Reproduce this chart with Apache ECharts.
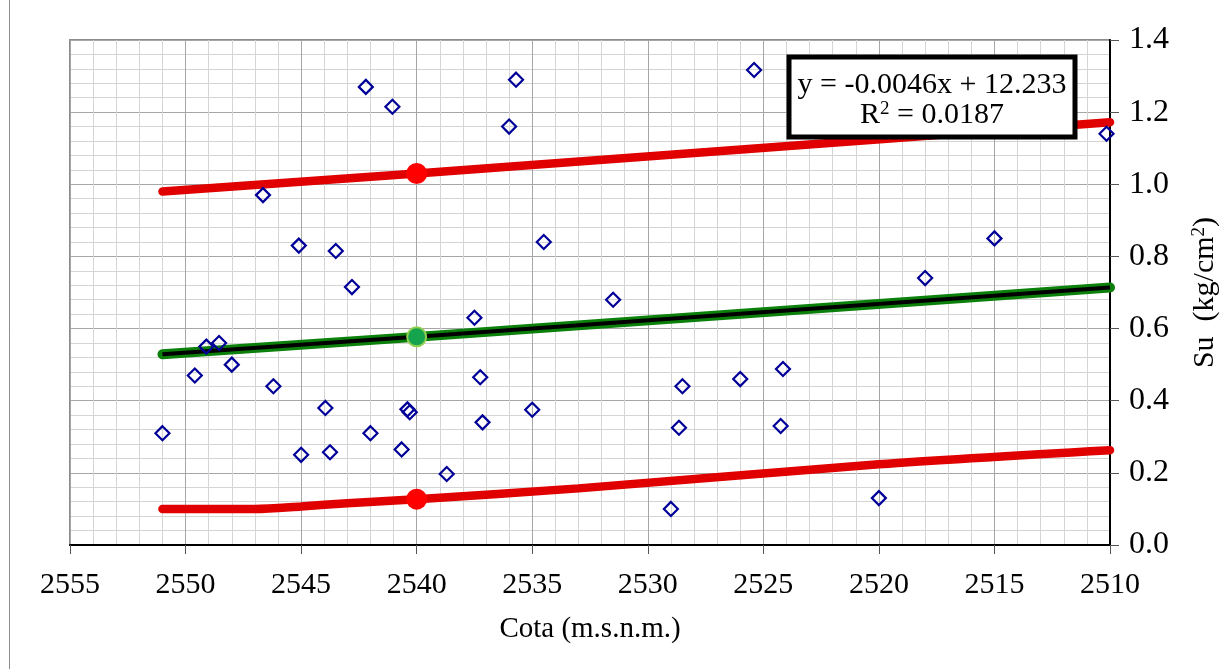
<!DOCTYPE html>
<html>
<head>
<meta charset="utf-8">
<script src="https://cdn.jsdelivr.net/npm/echarts@6/dist/echarts.min.js"></script>
<style>
  html, body { margin: 0; padding: 0; background: #fff; }
  #chart { width: 1232px; height: 669px; }
</style>
</head>
<body>
<div id="chart"></div>
<script>
// measured points: cota (m.s.n.m.) vs Su
const cota = [2551.0, 2549.6, 2549.1, 2548.55, 2548.0, 2546.65, 2546.2, 2545.0, 2545.1, 2543.95,
  2543.75, 2543.5, 2542.8, 2542.2, 2542.0, 2541.05, 2540.65, 2540.4, 2540.3, 2538.7,
  2537.5, 2537.25, 2537.15, 2536.0, 2535.7, 2535.0, 2534.5, 2531.5, 2529.0, 2528.65,
  2528.5, 2526.0, 2525.4, 2524.25, 2524.15, 2520.0, 2518.0, 2515.0, 2510.15]
const su = [0.31, 0.47, 0.55, 0.56, 0.50, 0.97, 0.44, 0.25, 0.83, 0.38,
  0.257, 0.815, 0.715, 1.27, 0.31, 1.215, 0.265, 0.376, 0.368, 0.197,
  0.63, 0.465, 0.34, 1.16, 1.29, 0.375, 0.84, 0.68, 0.10, 0.325,
  0.44, 0.46, 1.317, 0.33, 0.488, 0.13, 0.74, 0.85, 1.14]

// trend (green + black) line
const trendX = [2551, 2540, 2510]
const trendY = [0.529, 0.577, 0.714]

// upper / lower red envelopes
const upperX = [2551, 2540, 2510]
const upperY = [0.98, 1.03, 1.172]
const lowerX = [2551, 2547, 2545, 2543, 2540, 2533, 2520, 2510]
const lowerY = [0.10, 0.10, 0.107, 0.116, 0.127, 0.157, 0.224, 0.263]

// highlighted points at 2540
const redDotX = [2540, 2540]
const redDotY = [1.03, 0.127]
const greenDotX = [2540]
const greenDotY = [0.577]

const xTicks = { min: 2510, max: 2555, step: 5 }
const yTicks = { min: 0, max: 1.4, step: 0.2 }

const pairs = (xs, ys) => xs.map((x, i) => [x, ys[i]])

const FONT = 'Liberation Serif'
const myChart = echarts.init(document.getElementById('chart'))

const option = {
  backgroundColor: '#fff',
  animation: false,
  grid: {
    left: 70,
    right: 122,
    top: 40,
    bottom: 124,
    show: true,
    borderColor: '#8c8c8c',
    borderWidth: 2
  },
  xAxis: {
    type: 'value',
    inverse: true,
    min: xTicks.min,
    max: xTicks.max,
    interval: xTicks.step,
    name: 'Cota (m.s.n.m.)',
    nameLocation: 'middle',
    nameGap: 70,
    nameTextStyle: { fontFamily: FONT, fontSize: 29, color: '#000' },
    axisLine: { onZero: false, lineStyle: { color: '#000', width: 2 } },
    axisTick: { show: true, length: 9, lineStyle: { color: '#555', width: 1 } },
    axisLabel: { fontFamily: FONT, fontSize: 30, color: '#000', margin: 25, formatter: v => String(v) },
    splitLine: { show: true, lineStyle: { color: '#a6a6a6', width: 1 } },
    minorTick: { show: false, splitNumber: 5 },
    minorSplitLine: { show: true, lineStyle: { color: '#d4d4d4', width: 1 } }
  },
  yAxis: {
    type: 'value',
    position: 'right',
    min: yTicks.min,
    max: yTicks.max,
    interval: yTicks.step,
    name: 'Su  (kg/cm{sup|2})',
    nameLocation: 'middle',
    nameGap: 80,
    nameRotate: 90,
    nameTextStyle: {
      fontFamily: FONT, fontSize: 30, color: '#000',
      rich: { sup: { fontFamily: FONT, fontSize: 19, color: '#000', verticalAlign: 'top', padding: [0, 0, 10, 0] } }
    },
    axisLine: { show: true, onZero: false, lineStyle: { color: '#000', width: 2 } },
    axisTick: { show: true, length: 9, lineStyle: { color: '#555', width: 1 } },
    axisLabel: {
      fontFamily: FONT, fontSize: 32, color: '#000', margin: 19,
      formatter: v => v.toFixed(1)
    },
    splitLine: { show: true, lineStyle: { color: '#a6a6a6', width: 1 } },
    minorTick: { show: false, splitNumber: 5 },
    minorSplitLine: { show: true, lineStyle: { color: '#d4d4d4', width: 1 } }
  },
  series: [
    {
      type: 'line',
      data: pairs(upperX, upperY),
      showSymbol: false,
      lineStyle: { color: '#e00000', width: 8.5, cap: 'round' },
      z: 2
    },
    {
      type: 'line',
      data: pairs(lowerX, lowerY),
      smooth: 0.3,
      showSymbol: false,
      lineStyle: { color: '#e00000', width: 8.5, cap: 'round' },
      z: 2
    },
    {
      type: 'line',
      data: pairs(trendX, trendY),
      showSymbol: false,
      lineStyle: { color: '#0b800b', width: 10, cap: 'round' },
      z: 2
    },
    {
      type: 'line',
      data: pairs(trendX, trendY),
      showSymbol: false,
      lineStyle: { color: '#000', width: 4 },
      z: 3
    },
    {
      type: 'scatter',
      data: pairs(redDotX, redDotY),
      symbol: 'circle',
      symbolSize: 21,
      itemStyle: { color: '#ff0000', opacity: 1 },
      z: 4
    },
    {
      type: 'scatter',
      data: pairs(greenDotX, greenDotY),
      symbol: 'circle',
      symbolSize: 19,
      itemStyle: { color: '#16a34e', borderColor: '#92d050', borderWidth: 2, opacity: 1 },
      z: 4
    },
    {
      type: 'scatter',
      data: pairs(cota, su),
      symbol: 'diamond',
      symbolSize: 14,
      itemStyle: { color: 'rgba(0,0,0,0)', borderColor: '#000099', borderWidth: 2.2, opacity: 1 },
      z: 5
    }
  ],
  graphic: [
    {
      type: 'line',
      shape: { x1: 9.5, y1: 0, x2: 9.5, y2: 669 },
      style: { stroke: '#8c8c8c', lineWidth: 1 }
    },
    {
      type: 'rect',
      z: 100,
      shape: { x: 789, y: 57, width: 286, height: 80 },
      style: { fill: '#fff', stroke: '#000', lineWidth: 5 }
    },
    {
      type: 'text',
      z: 101,
      x: 932,
      y: 85,
      style: {
        text: 'y = -0.0046x + 12.233',
        fontFamily: FONT, fontSize: 30, fill: '#000',
        align: 'center', verticalAlign: 'middle'
      }
    },
    {
      type: 'text',
      z: 101,
      x: 932,
      y: 115,
      style: {
        text: 'R{sup|2} = 0.0187',
        fontFamily: FONT, fontSize: 30, fill: '#000',
        align: 'center', verticalAlign: 'middle',
        rich: { sup: { fontFamily: FONT, fontSize: 19, fill: '#000', verticalAlign: 'top', padding: [0, 0, 10, 0] } }
      }
    }
  ]
}

myChart.setOption(option)
</script>
</body>
</html>
